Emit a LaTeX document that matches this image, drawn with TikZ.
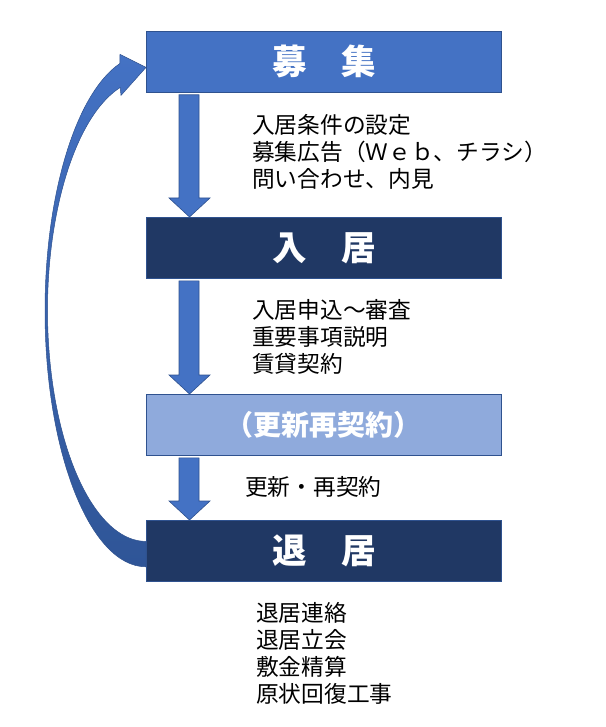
\documentclass[tikz,border=0pt]{standalone}
\usepackage{fontspec}
\setmainfont{Noto Sans CJK JP}
\usetikzlibrary{calc}
\definecolor{accent}{HTML}{4472C4}
\definecolor{accentline}{HTML}{2F528F}
\definecolor{navy}{HTML}{203864}
\definecolor{pale}{HTML}{8FAADC}
\definecolor{curvebottom}{HTML}{2F5597}
\newcommand{\downblockarrow}[2]{%
  \path[blockarrow] let \p1=(#1.south west), \p2=(#2.north west) in
    (\x1+33pt,\y1-2pt) -- (\x1+53pt,\y1-2pt) -- (\x1+53pt,\y2+19pt) --
    (\x1+64pt,\y2+19pt) -- (\x1+43.5pt,\y2) -- (\x1+23pt,\y2+19pt) --
    (\x1+33pt,\y2+19pt) -- cycle;}
\begin{document}
\begin{tikzpicture}[x=1pt,y=-1pt,
  stagebox/.style={draw=accentline,line width=0.8pt,minimum width=355pt,
    minimum height=61pt,inner sep=0pt,anchor=north west,text=white,
    font=\fontsize{34.5}{40}\selectfont\bfseries},
  bodytext/.style={anchor=base west,inner sep=0pt,
    font=\fontsize{22.7}{27}\selectfont},
  blockarrow/.style={fill=accent,draw=accentline,line width=0.6pt}]
\useasboundingbox (0,0) rectangle (605,727);

\node[stagebox,fill=accent] (b1) at (146,31) {募　集};
\node[stagebox,fill=navy] (b2) at (146,217) {入　居};
\node[stagebox,fill=pale,font=\fontsize{28}{34}\selectfont\bfseries] (b3) at (146,394) {（更新再契約）};
\node[stagebox,fill=navy] (b4) at (146,520) {退　居};

\downblockarrow{b1}{b2}
\downblockarrow{b2}{b3}
\downblockarrow{b3}{b4}

% curved return arrow
\path[top color=accent,bottom color=curvebottom,draw=accentline,line width=0.5pt]
  ($(b4.south west)+(0,-15)$)
  arc[start angle=90,end angle=255,x radius=101,y radius=256]
  -- ($(b1.west)+(-26,-7.5)$) -- ($(b1.west)+(0,5.5)$) -- ($(b1.west)+(-25,33.5)$)
  -- ($(b1.west)+(-25.8,25.6)$)
  arc[start angle=254.8,end angle=90,x radius=98.5,y radius=231]
  -- cycle;

\node[bodytext] (t1a) at (252,133.5) {入居条件の設定};
\node[bodytext] (t1b) at (252,160.5) {募集広告（Ｗｅｂ、チラシ）};
\node[bodytext] (t1c) at (252,187.5) {問い合わせ、内見};

\node[bodytext] (t2a) at (252,318.5) {入居申込～審査};
\node[bodytext] (t2b) at (252,345.5) {重要事項説明};
\node[bodytext] (t2c) at (252,372.5) {賃貸契約};

\node[bodytext] (t3a) at (245,495.5) {更新・再契約};

\node[bodytext] (t4a) at (256,621.5) {退居連絡};
\node[bodytext] (t4b) at (256,648.5) {退居立会};
\node[bodytext] (t4c) at (256,675.5) {敷金精算};
\node[bodytext] (t4d) at (256,702.5) {原状回復工事};
\end{tikzpicture}
\end{document}
